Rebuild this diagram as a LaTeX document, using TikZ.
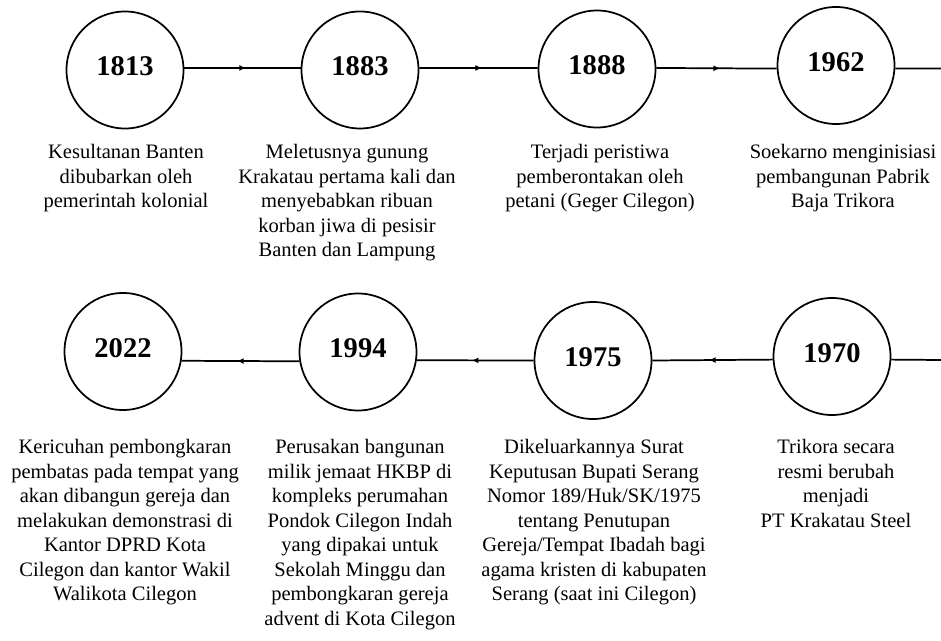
\documentclass[tikz,border=0pt]{standalone}
\usepackage{fontspec}
\setmainfont{Liberation Serif}
\usetikzlibrary{arrows.meta,decorations.markings}

\begin{document}
\begin{tikzpicture}[x=0.75pt,y=0.75pt,yscale=-1,xscale=1,
  yearnode/.style={circle,draw,line width=1.3pt,minimum size=87.75pt,inner sep=0pt,text depth=5.5pt,font=\fontsize{21.4}{24}\selectfont\bfseries},
  eventtext/.style={anchor=north,align=center,inner sep=0pt,font=\fontsize{15.4}{18.4}\selectfont},
  plainline/.style={line width=1.3pt},
  timeline/.style={plainline,postaction={decorate},decoration={markings,mark=at position 0.53 with {\arrow{Latex[length=5pt,width=4.5pt]}}}}
]
\useasboundingbox (0,0) rectangle (941,641);

%Year circles, top row
\node [yearnode] (c1813) at (125,70) {1813};
\node [yearnode] (c1883) at (360,70) {1883};
\node [yearnode] (c1888) at (597,69) {1888};
\node [yearnode] (c1962) at (836,65.5) {1962};
%Year circles, bottom row
\node [yearnode] (c2022) at (123,351.5) {2022};
\node [yearnode] (c1994) at (358,352) {1994};
\node [yearnode] (c1975) at (593,360.5) {1975};
\node [yearnode] (c1970) at (832,356.5) {1970};

%Free ends at the right edge
\coordinate (endA) at (941,68.5);
\coordinate (endB) at (941,360);

%Straight Lines, top row
\draw [timeline] (c1813.2) -- (c1883.178);
\draw [timeline] (c1883.2) -- (c1888.179);
\draw [timeline] (c1888.1) -- (c1962.183);
\draw [plainline] (c1962.-3) -- (endA);
%Straight Lines, bottom row
\draw [plainline] (endB) -- (c1970.-3);
\draw [timeline] (c1970.183) -- (c1975.east);
\draw [timeline] (c1975.west) -- (c1994.-8);
\draw [timeline] (c1994.189) -- (c2022.-9);

% Text Node
\node [eventtext] (t1813) at (126,144) {Kesultanan Banten\\dibubarkan oleh\\pemerintah kolonial};
% Text Node
\node [eventtext] (t1883) at (347,144) {Meletusnya gunung\\Krakatau pertama kali dan\\menyebabkan ribuan\\korban jiwa di pesisir\\Banten dan Lampung};
% Text Node
\node [eventtext] (t1888) at (600,144) {Terjadi peristiwa\\pemberontakan oleh\\petani (Geger Cilegon)};
% Text Node
\node [eventtext] (t1962) at (843,144) {Soekarno menginisiasi\\pembangunan Pabrik\\Baja Trikora};
% Text Node
\node [eventtext] (t2022) at (125,439) {Kericuhan pembongkaran\\pembatas pada tempat yang\\akan dibangun gereja dan\\melakukan demonstrasi di\\Kantor DPRD Kota\\Cilegon dan kantor Wakil\\Walikota Cilegon};
% Text Node
\node [eventtext] (t1994) at (360,439) {Perusakan bangunan\\milik jemaat HKBP di\\kompleks perumahan\\Pondok Cilegon Indah\\yang dipakai untuk\\Sekolah Minggu dan\\pembongkaran gereja\\advent di Kota Cilegon};
% Text Node
\node [eventtext] (t1975) at (594,439) {Dikeluarkannya Surat\\Keputusan Bupati Serang\\Nomor 189/Huk/SK/1975\\tentang Penutupan\\Gereja/Tempat Ibadah bagi\\agama kristen di kabupaten\\Serang (saat ini Cilegon)};
% Text Node
\node [eventtext] (t1970) at (836,439) {Trikora secara\\resmi berubah\\menjadi\\PT Krakatau Steel};

\end{tikzpicture}
\end{document}
